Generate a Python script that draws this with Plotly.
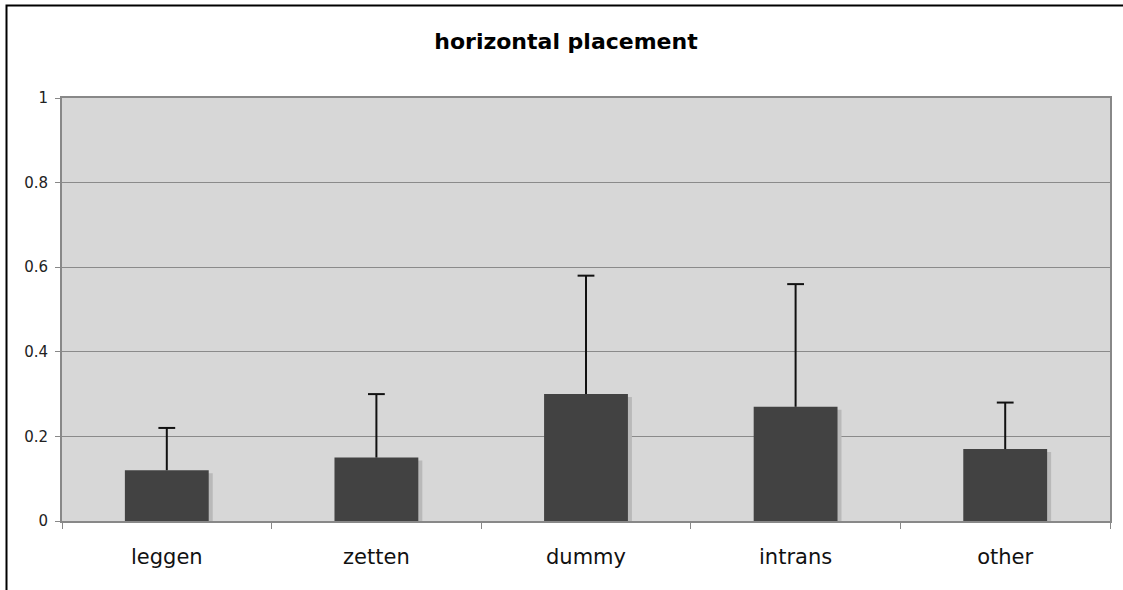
import plotly.graph_objects as go

categories = ["leggen", "zetten", "dummy", "intrans", "other"]
means = [0.12, 0.15, 0.30, 0.27, 0.17]
err_up = [0.10, 0.15, 0.28, 0.29, 0.11]
y_ticks = [0, 0.2, 0.4, 0.6, 0.8, 1]

W, H = 1123, 590
L, R, T, B = 62, 13, 98, 69
pw, ph = W - L - R, H - T - B

fig = go.Figure()

# drop shadow behind each bar (offset a few px right and down)
fig.add_trace(
    go.Bar(
        x=categories,
        y=[m - 3 / ph for m in means],
        width=0.4,
        offset=-0.2 + 4 / (pw / 5),
        marker=dict(color="#b9b9b9", line_width=0),
        hoverinfo="skip",
        showlegend=False,
    )
)

fig.add_trace(
    go.Bar(
        x=categories,
        y=means,
        width=0.4,
        offset=-0.2,
        marker=dict(color="#424242", line_width=0),
        error_y=dict(
            type="data",
            symmetric=False,
            array=err_up,
            arrayminus=[0] * len(err_up),
            color="#111111",
            thickness=2,
            width=0,
        ),
        showlegend=False,
    )
)

# caps only on the top end of the error bars
fig.add_trace(
    go.Scatter(
        x=categories,
        y=[m + e for m, e in zip(means, err_up)],
        mode="markers",
        marker=dict(symbol="line-ew", size=12, line=dict(color="#111111", width=2)),
        hoverinfo="skip",
        showlegend=False,
    )
)

# outer chart border (right edge falls just outside the window)
fig.add_shape(
    type="rect",
    xref="paper",
    yref="paper",
    x0=(6.5 - L) / pw,
    x1=(1130 - L) / pw,
    y0=-(H + 10 - (T + ph)) / ph,
    y1=1 + (T - 5.5) / ph,
    line=dict(color="black", width=2),
    layer="below",
)

fig.update_layout(
    width=W,
    height=H,
    margin=dict(l=L, r=R, t=T, b=B),
    barmode="overlay",
    paper_bgcolor="white",
    plot_bgcolor="#d7d7d7",
    title=dict(
        text="<b>horizontal placement</b>",
        x=566 / W,
        xref="container",
        xanchor="center",
        y=1 - 41 / H,
        yanchor="middle",
        font=dict(family="DejaVu Sans", size=22, color="black"),
    ),
    font=dict(family="DejaVu Sans", color="#222222"),
    xaxis=dict(
        type="category",
        range=[-0.5, 4.5],
        tickson="boundaries",
        ticks="outside",
        ticklen=6,
        tickcolor="#888888",
        ticklabelstandoff=16,
        tickfont=dict(size=21, color="#111111"),
        showgrid=False,
        showline=True,
        linecolor="#888888",
        linewidth=2,
        mirror=True,
    ),
    yaxis=dict(
        range=[0, 1],
        tickvals=y_ticks,
        ticktext=[f"{v:g}" for v in y_ticks],
        ticks="outside",
        ticklen=5,
        tickcolor="#888888",
        ticklabelstandoff=4,
        tickfont=dict(size=15, color="#222222"),
        showgrid=True,
        gridcolor="#8a8a8a",
        gridwidth=1,
        zeroline=False,
        showline=True,
        linecolor="#888888",
        linewidth=2,
        mirror=True,
    ),
)

fig.write_html(
    "out.html",
    config={"displayModeBar": False},
    post_script="document.body.style.margin='0';",
)
